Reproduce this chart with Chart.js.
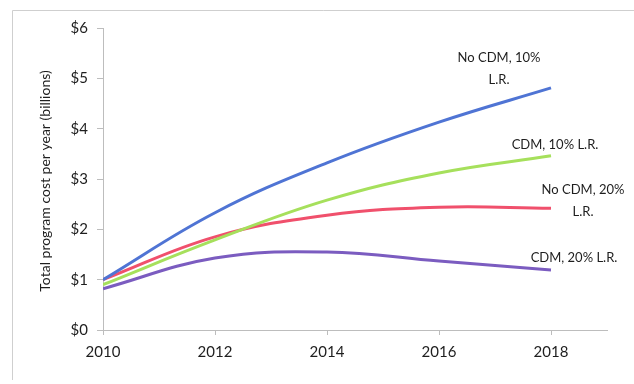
<!DOCTYPE html>
<html>
<head>
<meta charset="utf-8">
<script src="https://cdn.jsdelivr.net/npm/chart.js@4"></script>
<style>
  html, body { margin: 0; padding: 0; background: #fff; }
  #wrap { width: 634px; height: 384px; }
</style>
</head>
<body>
<div id="wrap"><canvas id="costChart" width="634" height="384"></canvas></div>
<script>
// data (billions of dollars per year)
const years = [2010, 2012, 2014, 2016, 2018];
const noCdm10 = [1.00, 2.33, 3.32, 4.13, 4.81];
const cdm10 = [0.90, 1.79, 2.58, 3.12, 3.46];
const noCdm20 = [1.00, 1.85, 2.28, 2.44, 2.42];
const cdm20 = [0.82, 1.43, 1.55, 1.37, 1.19];
const yTicks = [0, 1, 2, 3, 4, 5, 6];

const seriesColors = {
    noCdm10: '#4f74d4',
    cdm10: '#a6e05c',
    noCdm20: '#f0506c',
    cdm20: '#7b5cc0'
};

// end labels, offsets from each line's last point
const endLabels = [
    { idx: 0, lines: ['No CDM, 10%', 'L.R.'], dx: -52, dy: -30 },
    { idx: 1, lines: ['CDM, 10% L.R.'], dx: 4, dy: -11 },
    { idx: 2, lines: ['No CDM, 20%', 'L.R.'], dx: 32, dy: -18 },
    { idx: 3, lines: ['CDM, 20% L.R.'], dx: 23, dy: -12 }
];

const FONT = "Lato, 'Open Sans', sans-serif";

function toPoints(vals) {
    return years.map((y, i) => ({ x: y, y: vals[i] }));
}

function lineSet(label, vals, color) {
    return {
        label: label,
        data: toPoints(vals),
        borderColor: color,
        backgroundColor: color,
        borderWidth: 3,
        tension: 0.4,
        pointRadius: 0,
        fill: false
    };
}

const decorations = {
    id: 'decorations',
    afterDraw(chart) {
        const c = chart.ctx;
        const xs = chart.scales.x, ys = chart.scales.y;
        c.save();
        // scanned frame
        c.strokeStyle = '#cfcfcf';
        c.lineWidth = 1;
        c.beginPath();
        c.moveTo(12.5, 380);
        c.lineTo(12.5, 10.5);
        c.lineTo(634, 10.5);
        c.stroke();

        // y axis title
        c.fillStyle = '#1e1e1e';
        c.font = '14px ' + FONT;
        c.textAlign = 'center';
        c.textBaseline = 'middle';
        c.translate(45, 181);
        c.rotate(-Math.PI / 2);
        c.fillText('Total program cost per year (billions)', 0, 0);
        c.restore();

        c.save();
        c.fillStyle = '#1e1e1e';
        c.font = '13px ' + FONT;
        c.textAlign = 'center';
        c.textBaseline = 'middle';
        endLabels.forEach(lab => {
            const ds = chart.data.datasets[lab.idx];
            const last = ds.data[ds.data.length - 1];
            const px = xs.getPixelForValue(last.x) + lab.dx;
            const py = ys.getPixelForValue(last.y) + lab.dy;
            lab.lines.forEach((t, i) => c.fillText(t, px, py + i * 22));
        });
        c.restore();
    }
};

new Chart(document.getElementById('costChart'), {
    type: 'line',
    data: {
        datasets: [
            lineSet('No CDM, 10% L.R.', noCdm10, seriesColors.noCdm10),
            lineSet('CDM, 10% L.R.', cdm10, seriesColors.cdm10),
            lineSet('No CDM, 20% L.R.', noCdm20, seriesColors.noCdm20),
            lineSet('CDM, 20% L.R.', cdm20, seriesColors.cdm20)
        ]
    },
    options: {
        responsive: false,
        animation: false,
        layout: { padding: { left: 12, right: 27, top: 28, bottom: 0 } },
        plugins: { legend: { display: false }, tooltip: { enabled: false } },
        scales: {
            x: {
                type: 'linear',
                min: 2010,
                max: 2019,
                afterBuildTicks: scale => {
                    scale.ticks = years.map(v => ({ value: v }));
                },
                afterFit: scale => { scale.height = 54; },
                border: { color: '#bdbdbd', width: 1 },
                grid: { drawOnChartArea: false, color: '#bdbdbd', tickLength: 5 },
                ticks: {
                    color: '#1e1e1e',
                    font: { family: FONT, size: 15 },
                    padding: 8,
                    maxRotation: 0,
                    callback: v => String(v)
                }
            },
            y: {
                min: 0,
                max: 6,
                afterBuildTicks: scale => {
                    scale.ticks = yTicks.map(v => ({ value: v }));
                },
                afterFit: scale => { scale.width = 91; },
                border: { color: '#bdbdbd', width: 1 },
                grid: { drawOnChartArea: false, color: '#bdbdbd', tickLength: 6 },
                ticks: {
                    color: '#1e1e1e',
                    font: { family: FONT, size: 15 },
                    padding: 9,
                    callback: v => '$' + v
                }
            }
        }
    },
    plugins: [decorations]
});
</script>
</body>
</html>
